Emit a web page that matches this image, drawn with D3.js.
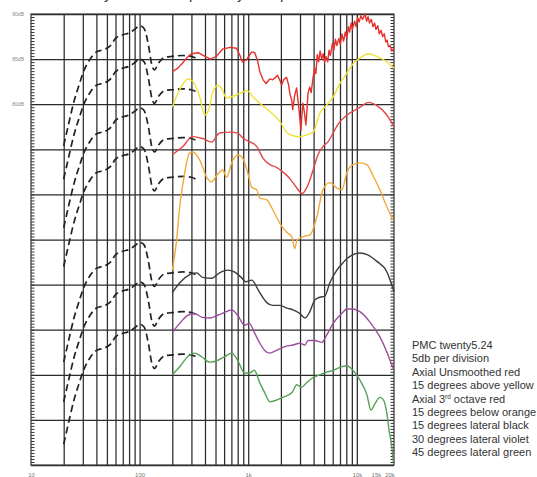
<!DOCTYPE html>
<html><head><meta charset="utf-8">
<script src="https://cdn.jsdelivr.net/npm/d3@7"></script>
<style>
body{margin:0;background:#fff;}
svg{display:block;font-family:"Liberation Sans",Arial,sans-serif;}
</style>
</head><body>
<svg id="c" width="537" height="477"></svg>
<script>
// ---------- tick labels / grid ----------
const xTickValues = [10, 100, 1000, 10000, 15000, 20000];
const xTickLabels = ["10", "100", "1k", "10k", "15k", "20k"];
const xGridFreqs = [20,30,40,50,60,70,80,90,100,200,300,400,500,600,700,800,900,1000,2000,3000,4000,5000,6000,7000,8000,9000,10000];
const yGridValues = [40,45,50,55,60,65,70,75,80,85,90];
const yLabelValues = [90, 85, 80];
const yLabelTexts = ["90dB", "85dB", "80dB"];
const legendLines = ["PMC twenty5.24","5db per division","Axial Unsmoothed red","15 degrees above yellow","Axial 3rd octave red","15 degrees below orange","15 degrees lateral black","30 degrees lateral violet","45 degrees lateral green"];

// ---------- dashed low-frequency (nearfield) curves ----------
const dashFreq = [20,22,25,28,30,35,40,45,50,55,60,70,80,90,100,110,120,130,137,150,170,200,250,300,350];
const dash1 = [75.4,77.6,80.4,82.3,83.4,85.0,85.8,86.0,86.2,86.6,87.3,87.7,87.9,88.3,88.7,88.4,86.7,84.3,83.8,84.6,85.2,85.3,85.4,85.3,84.9];
const dash2 = [71.7,73.9,76.7,78.6,79.7,81.3,82.1,82.3,82.5,82.9,83.6,84.0,84.2,84.6,85.0,84.7,83.0,80.6,80.1,80.9,81.5,81.6,81.7,81.6,81.2];
const dash3 = [66.3,68.5,71.3,73.2,74.3,75.9,76.7,76.9,77.1,77.5,78.2,78.6,78.8,79.2,79.6,79.3,77.6,75.2,74.7,75.5,76.1,76.2,76.3,76.2,75.8];
const dash4 = [62.0,64.2,67.0,68.9,70.0,71.6,72.4,72.6,72.8,73.2,73.9,74.3,74.5,74.9,75.3,75.0,73.3,70.9,70.4,71.2,71.8,71.9,72.0,71.9,71.5];
const dash5 = [51.4,53.6,56.4,58.3,59.4,61.0,61.8,62.0,62.2,62.6,63.3,63.7,63.9,64.3,64.7,64.4,62.7,60.3,59.8,60.6,61.2,61.3,61.4,61.3,60.9];
const dash6 = [47.0,49.2,52.0,53.9,55.0,56.6,57.4,57.6,57.8,58.2,58.9,59.3,59.5,59.9,60.3,60.0,58.3,55.9,55.4,56.2,56.8,56.9,57.0,56.9,56.5];
const dash7 = [42.3,44.5,47.3,49.2,50.3,51.9,52.7,52.9,53.1,53.5,54.2,54.6,54.8,55.2,55.6,55.3,53.6,51.2,50.7,51.5,52.1,52.2,52.3,52.2,51.8];

// ---------- solid curves [Hz, dB] ----------
const redUnsmoothed = [[200,83.6],[225,84.0],[250,84.6],[275,85.2],[300,85.6],[350,85.7],[400,85.3],[450,85.0],[510,85.3],[580,86.1],[680,86.3],[780,86.2],[840,85.4],[880,84.7],[960,84.9],[1080,85.8],[1150,85.7],[1220,84.8],[1280,83.6],[1370,82.7],[1460,82.3],[1580,82.8],[1680,82.7],[1790,83.0],[1860,83.2],[1950,82.7],[2030,82.1],[2120,82.7],[2250,83.0],[2350,82.2],[2420,81.2],[2520,80.4],[2570,79.4],[2680,81.0],[2790,81.8],[2920,79.7],[3060,77.1],[3120,78.8],[3190,80.1],[3290,79.1],[3400,77.7],[3480,79.4],[3550,81.2],[3680,81.9],[3800,81.3],[3960,83.0],[4100,84.0],[4200,83.4],[4320,85.5],[4450,84.7],[4590,85.9],[4750,85.0],[4900,85.6],[5050,84.6],[5200,85.3],[5400,84.7],[5550,86.0],[5700,85.4],[5980,86.8],[6150,86.0],[6350,87.2],[6550,86.5],[6830,87.3],[7050,86.6],[7300,87.8],[7550,87.0],[7830,88.0],[8100,87.3],[8350,88.6],[8580,88.0],[8850,89.0],[9100,88.3],[9550,89.2],[9850,88.6],[10200,89.6],[10500,89.1],[10900,89.8],[11300,89.4],[11900,90.0],[12300,89.2],[12700,89.7],[13100,89.0],[13600,89.4],[14100,88.6],[14600,89.0],[15000,88.3],[15600,88.7],[16100,87.8],[16700,88.2],[17300,87.5],[17900,87.8],[18500,86.9],[19000,87.1],[19500,86.4],[20200,86.5],[21000,85.9],[22000,86.2]];
const yellowAbove = [[200,79.7],[234,81.6],[279,82.8],[310,82.5],[358,80.8],[398,78.8],[427,79.2],[474,81.4],[527,82.1],[567,81.8],[630,80.7],[701,80.8],[836,81.2],[976,81.5],[1109,80.8],[1279,80.1],[1580,79.2],[1954,78.1],[2253,76.9],[2592,76.5],[2988,76.4],[3444,76.6],[3963,76.9],[4567,79.0],[5266,79.9],[6060,80.8],[6985,82.3],[8050,83.4],[9262,84.5],[10680,85.1],[12735,85.6],[15220,85.3],[18820,84.7],[22000,84.0]];
const red3rdOct = [[200,74.4],[250,75.3],[306,76.4],[380,76.2],[460,75.8],[545,76.8],[680,76.9],[800,76.8],[900,76.2],[1050,75.8],[1200,75.3],[1370,74.0],[1580,73.3],[1820,73.0],[2080,72.5],[2400,71.8],[2770,70.8],[3140,70.1],[3480,70.8],[3960,72.7],[4390,74.4],[4870,75.3],[5400,75.8],[6830,77.9],[8120,78.8],[10500,79.6],[12900,80.2],[15100,79.9],[18900,78.8],[22000,77.5]];
const orangeBelow = [[200,61.6],[219,64.9],[234,68.6],[260,72.4],[289,74.6],[308,74.7],[358,73.8],[415,71.9],[461,71.4],[513,72.1],[583,72.7],[634,71.9],[705,73.5],[801,74.4],[891,74.0],[991,72.4],[1079,70.8],[1200,70.5],[1279,69.6],[1483,69.4],[1683,68.3],[1954,66.8],[2265,65.8],[2518,65.3],[2685,64.0],[2804,64.9],[3185,65.3],[3694,65.5],[4286,67.5],[4870,70.5],[5647,71.3],[6548,70.7],[7280,70.5],[8095,72.4],[9200,73.3],[10680,73.5],[12380,73.3],[14070,72.1],[16320,70.5],[18940,68.6],[21500,67.2]];
const blackLateral15 = [[200,59.1],[234,60.2],[289,61.1],[335,61.3],[380,60.8],[462,60.7],[545,61.3],[644,61.6],[746,61.4],[862,60.8],[956,60.3],[1079,60.5],[1200,59.7],[1279,59.1],[1483,58.0],[1683,57.7],[1954,57.7],[2265,57.4],[2585,57.2],[2988,56.8],[3330,56.3],[3694,57.0],[4100,58.3],[4567,58.6],[5060,58.7],[5647,60.2],[6548,61.6],[7440,62.4],[8120,62.9],[10680,63.5],[12580,63.3],[15220,62.6],[18940,61.4],[20240,60.5],[22000,59.2]];
const violetLateral30 = [[200,54.7],[234,55.7],[277,56.6],[321,56.8],[372,56.4],[443,56.3],[523,56.6],[630,57.0],[705,57.2],[801,56.6],[922,55.5],[1025,55.7],[1138,54.7],[1279,53.5],[1420,52.7],[1580,52.4],[1820,52.7],[2145,53.1],[2585,53.3],[2988,53.5],[3330,53.3],[3550,53.8],[4100,53.8],[4760,53.6],[5280,54.4],[6060,55.7],[7280,56.8],[8095,57.3],[9200,57.3],[10680,57.0],[13100,55.9],[16320,54.2],[18940,52.5],[21000,51.1],[22000,50.5]];
const greenLateral45 = [[200,50.0],[234,50.9],[277,52.0],[321,52.4],[372,52.0],[443,51.4],[523,51.6],[604,52.0],[705,52.4],[801,51.6],[922,50.2],[1025,50.2],[1138,50.5],[1279,49.1],[1420,48.0],[1580,47.0],[1820,47.2],[2080,47.5],[2518,48.0],[2804,48.9],[3090,48.6],[3430,49.1],[3960,49.7],[4567,50.0],[5280,50.3],[6060,50.5],[7280,50.9],[8095,51.0],[9200,50.5],[10680,49.4],[12380,47.8],[13500,46.1],[14700,46.8],[16320,47.5],[17400,47.3],[18940,45.7],[19800,43.9],[21000,42.0],[21700,40.3]];

// ---------- scales ----------
const svg = d3.select("#c");
const x = d3.scaleLog().domain([10, 22000]).range([31, 394]);
const y = d3.scaleLinear().domain([40, 90]).range([465, 14]);

// title fragment (cut off at top edge)
const title = svg.append("text").attr("y", -1).attr("font-size", 15).attr("fill", "#333");
[["y",104],["p",189],["y",237],["p",280]].forEach(([t,px]) => title.append("tspan").attr("x", px).text(t));

// grid
const grid = svg.append("g");
grid.append("g").attr("transform", `translate(0,${y(40)})`)
  .call(d3.axisBottom(x).tickValues(xGridFreqs).tickSize(-(y(40)-y(90))).tickFormat(""))
  .call(g => g.select(".domain").remove())
  .call(g => g.selectAll("line").attr("stroke", "#2b2b2b").attr("stroke-width", 1.25));
grid.append("g").attr("transform", `translate(${x(10)},0)`)
  .call(d3.axisLeft(y).tickValues(yGridValues).tickSize(-(x(22000)-x(10))).tickFormat(""))
  .call(g => g.select(".domain").remove())
  .call(g => g.selectAll("line").attr("stroke", "#2b2b2b").attr("stroke-width", 1.25));

// minor ticks left and right
const minor = d3.range(40, 90.001, 1/3);
svg.append("g").attr("transform", `translate(${x(10)},0)`)
  .call(d3.axisLeft(y).tickValues(minor).tickSize(-3.5).tickFormat(""))
  .call(g => g.select(".domain").remove())
  .call(g => g.selectAll("line").attr("stroke", "#333").attr("stroke-width", 1));
svg.append("g").attr("transform", `translate(${x(22000)},0)`)
  .call(d3.axisRight(y).tickValues(minor).tickSize(-3.5).tickFormat(""))
  .call(g => g.select(".domain").remove())
  .call(g => g.selectAll("line").attr("stroke", "#333").attr("stroke-width", 1));

// frame
svg.append("rect").attr("x", x(10)).attr("y", y(90))
  .attr("width", x(22000)-x(10)).attr("height", y(40)-y(90))
  .attr("fill", "none").attr("stroke", "#333").attr("stroke-width", 1.2);

// axis labels
svg.append("g").attr("transform", `translate(0,${y(40)})`)
  .call(d3.axisBottom(x).tickValues(xTickValues).tickSize(0).tickPadding(8)
    .tickFormat((d,i) => xTickLabels[i]))
  .call(g => g.select(".domain").remove())
  .call(g => g.selectAll("text").attr("font-size", 6).attr("fill", "#777").attr("font-family", "Liberation Sans, Arial, sans-serif"));
svg.append("g").attr("transform", `translate(${x(10)},0)`)
  .call(d3.axisLeft(y).tickValues(yLabelValues).tickSize(0).tickPadding(7)
    .tickFormat((d,i) => yLabelTexts[i]))
  .call(g => g.select(".domain").remove())
  .call(g => g.selectAll("text").attr("font-size", 5).attr("fill", "#888").attr("font-family", "Liberation Sans, Arial, sans-serif"));

// dashed curves
const dashLine = d3.line().x((d,i) => x(dashFreq[i])).y(d => y(d)).curve(d3.curveMonotoneX);
[dash1, dash2, dash3, dash4, dash5, dash6, dash7].forEach(s => {
  svg.append("path").attr("d", dashLine(s)).attr("fill", "none")
    .attr("stroke", "#222").attr("stroke-width", 1.7).attr("stroke-dasharray", "7,4");
});

// solid curves
const smooth = d3.line().x(d => x(d[0])).y(d => y(d[1])).curve(d3.curveMonotoneX);
const raw = d3.line().x(d => x(d[0])).y(d => y(d[1]));
const series = [
  {data: yellowAbove, color: "#f0e234", gen: smooth},
  {data: red3rdOct, color: "#e04848", gen: smooth},
  {data: orangeBelow, color: "#f2a93a", gen: smooth},
  {data: blackLateral15, color: "#3c3c3c", gen: smooth},
  {data: violetLateral30, color: "#9c4c9c", gen: smooth},
  {data: greenLateral45, color: "#55a055", gen: smooth},
  {data: redUnsmoothed, color: "#e8302c", gen: raw}
];
series.forEach(s => {
  svg.append("path").attr("d", s.gen(s.data)).attr("fill", "none")
    .attr("stroke", s.color).attr("stroke-width", 1.4).attr("stroke-linejoin", "round");
});

// legend text
const leg = svg.append("g").attr("font-size", 11).attr("fill", "#333");
legendLines.forEach((t, i) => {
  const tx = leg.append("text").attr("x", 412).attr("y", 349 + i * 13.4);
  if (t.includes("3rd")) {
    const [a, b] = t.split("3rd");
    tx.append("tspan").text(a + "3");
    tx.append("tspan").attr("font-size", 6.5).attr("dy", -4).text("rd");
    tx.append("tspan").attr("dy", 4).text(b);
  } else {
    tx.text(t);
  }
});
</script>
</body></html>
